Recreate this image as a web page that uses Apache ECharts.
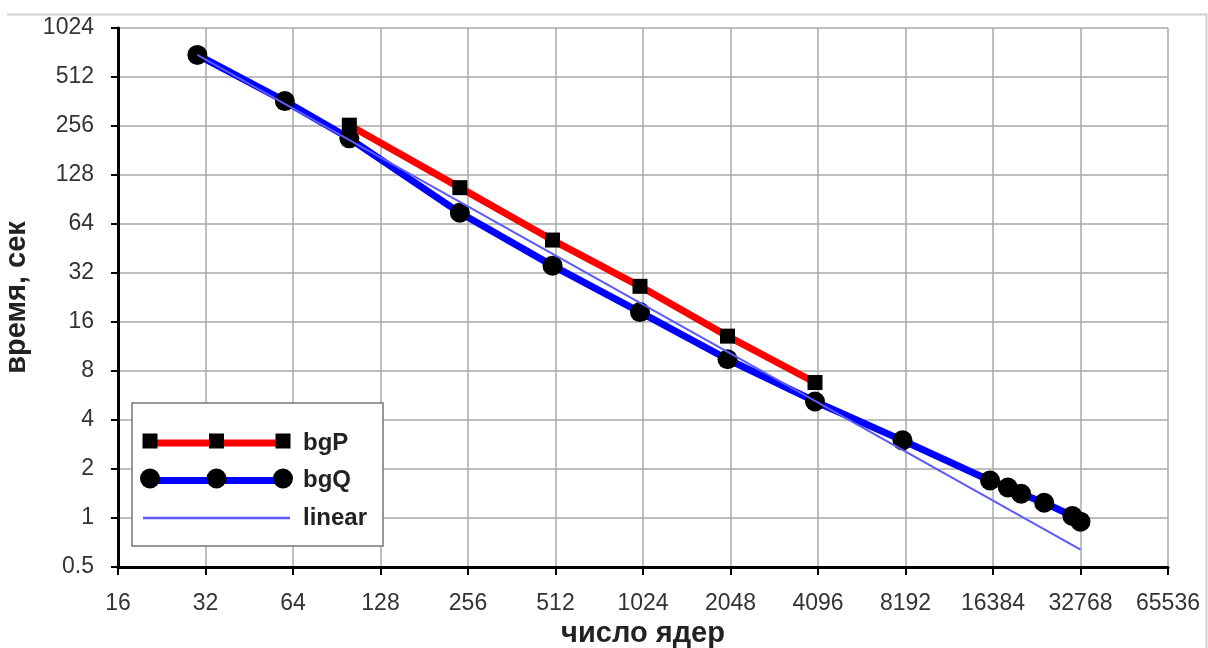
<!DOCTYPE html>
<html><head><meta charset="utf-8">
<script src="https://cdn.jsdelivr.net/npm/echarts@6/dist/echarts.min.js"></script>
<style>html,body{margin:0;padding:0;background:#fff}#c{width:1208px;height:648px}</style>
</head><body><div id="c"></div>
<script>
// ---- data ----
const xTickLabels = ['16','32','64','128','256','512','1024','2048','4096','8192','16384','32768','65536'];
const yTickLabels = ['0.5','1','2','4','8','16','32','64','128','256','512','1024'];
const bgPCores = [100, 240, 500, 1000, 2000, 4000];
const bgPTime  = [259, 107, 51, 26.5, 13.1, 6.8];
const bgQCores = [30, 60, 100, 240, 500, 1000, 2000, 4000, 8000, 16000, 18432, 20480, 24576, 30720, 32768];
const bgQTime  = [700, 364, 215, 75, 35.5, 18.4, 9.45, 5.2, 3.0, 1.7, 1.54, 1.41, 1.24, 1.03, 0.95];
const linearCores = [30, 32768];
const linearTime  = [700, 0.64];
const seriesNames = ['bgP', 'bgQ', 'linear'];

// ---- build ----
const FONT = "'Liberation Sans', Arial, sans-serif";
const lg = v => Math.log2(v);
const pairs = (xs, ys) => xs.map((x, i) => [lg(x), lg(ys[i])]);

const COL_P = '#ff0000', COL_Q = '#0000ff', COL_L = '#5a5aff';

// legend layout
const LEG_LEFT = 132, LEG_TOP = 403, LEG_PAD_T = 28, ITEM_W = 147, ITEM_H = 20, ITEM_GAP = 13.5, LEG_PAD_L = 11;
const ROW_STEP = 24 + ITEM_GAP;
const rowY = i => LEG_TOP + LEG_PAD_T + ITEM_H / 2 + i * ROW_STEP;
const iconX0 = LEG_LEFT + LEG_PAD_L;
const markXs = [iconX0 + 7, iconX0 + ITEM_W / 2, iconX0 + ITEM_W - 7];
// band icon path (tiny corner specks keep the bounding box at ITEM_W x ITEM_H)
const bandIcon = th => 'path://M0,0L0.01,0L0,0.01Z M0,' + (10 - th / 2) + 'L' + ITEM_W + ',' + (10 - th / 2) +
  'L' + ITEM_W + ',' + (10 + th / 2) + 'L0,' + (10 + th / 2) + 'Z M' + (ITEM_W - 0.01) + ',20L' + ITEM_W + ',20L' + ITEM_W + ',19.99Z';

const legendMarks = [];
markXs.forEach(x => {
  legendMarks.push({type: 'rect', z: 200, silent: true,
    shape: {x: x - 7.5, y: rowY(0) - 7.5, width: 15, height: 15}, style: {fill: '#000'}});
  legendMarks.push({type: 'circle', z: 200, silent: true,
    shape: {cx: x, cy: rowY(1), r: 10}, style: {fill: '#000'}});
});

const chart = echarts.init(document.getElementById('c'), null, {renderer: 'canvas'});
chart.setOption({
  animation: false,
  backgroundColor: '#fff',
  grid: {left: 118, top: 28, right: 40, bottom: 81, containLabel: false, outerBoundsMode: 'none'},
  xAxis: {
    type: 'value', min: lg(16), max: lg(65536), interval: 1,
    name: 'число ядер', nameLocation: 'middle', nameGap: 51,
    nameTextStyle: {fontFamily: FONT, fontSize: 29, fontWeight: 'bold', color: '#222'},
    axisLine: {show: true, onZero: false, lineStyle: {color: '#000', width: 3}},
    axisTick: {show: true, length: 8, lineStyle: {color: '#000', width: 2}},
    axisLabel: {margin: 25, fontFamily: FONT, fontSize: 23, color: '#333',
      formatter: v => xTickLabels[Math.round(v) - 4]},
    splitLine: {show: true, lineStyle: {color: '#a8a8a8', width: 1.5}}
  },
  yAxis: {
    type: 'value', min: lg(0.5), max: lg(1024), interval: 1,
    name: 'время, сек', nameLocation: 'middle', nameRotate: 90, nameGap: 82,
    nameTextStyle: {fontFamily: FONT, fontSize: 29, fontWeight: 'bold', color: '#222'},
    axisLine: {show: true, onZero: false, lineStyle: {color: '#000', width: 3}},
    axisTick: {show: true, length: 7, lineStyle: {color: '#000', width: 2}},
    axisLabel: {margin: 24, fontFamily: FONT, fontSize: 23, color: '#333',
      formatter: v => yTickLabels[Math.round(v) + 1]},
    splitLine: {show: true, lineStyle: {color: '#a8a8a8', width: 1.5}}
  },
  legend: {
    orient: 'vertical', left: LEG_LEFT, top: LEG_TOP,
    data: [
      {name: seriesNames[0], icon: bandIcon(7), itemStyle: {color: COL_P}},
      {name: seriesNames[1], icon: bandIcon(7), itemStyle: {color: COL_Q}},
      {name: seriesNames[2], icon: bandIcon(2.5), itemStyle: {color: COL_L}}
    ],
    symbolKeepAspect: false,
    itemWidth: ITEM_W, itemHeight: ITEM_H, itemGap: ITEM_GAP,
    padding: [LEG_PAD_T, 16, 16, LEG_PAD_L],
    backgroundColor: '#fff', borderColor: '#777', borderWidth: 1.5, borderRadius: 0,
    textStyle: {fontFamily: FONT, fontSize: 24, lineHeight: 20, fontWeight: 'bold', color: '#222', padding: [0, 0, 0, 8]},
    selectedMode: false
  },
  series: [
    {name: seriesNames[0], type: 'line', data: pairs(bgPCores, bgPTime),
     symbol: 'rect', symbolSize: 15, z: 3,
     lineStyle: {color: COL_P, width: 7}, itemStyle: {color: '#000'}},
    {name: seriesNames[1], type: 'line', data: pairs(bgQCores, bgQTime),
     symbol: 'circle', symbolSize: 20, z: 2,
     lineStyle: {color: COL_Q, width: 7}, itemStyle: {color: '#000'}},
    {name: seriesNames[2], type: 'line', data: pairs(linearCores, linearTime),
     symbol: 'none', z: 4,
     lineStyle: {color: COL_L, width: 2}, itemStyle: {color: COL_L}}
  ],
  graphic: [
    {type: 'polyline', silent: true, shape: {points: [[7, 14.5], [1206.5, 14.5], [1206.5, 648]]},
     style: {stroke: '#cfcfcf', lineWidth: 2, fill: null}}
  ].concat(legendMarks)
});
</script></body></html>
